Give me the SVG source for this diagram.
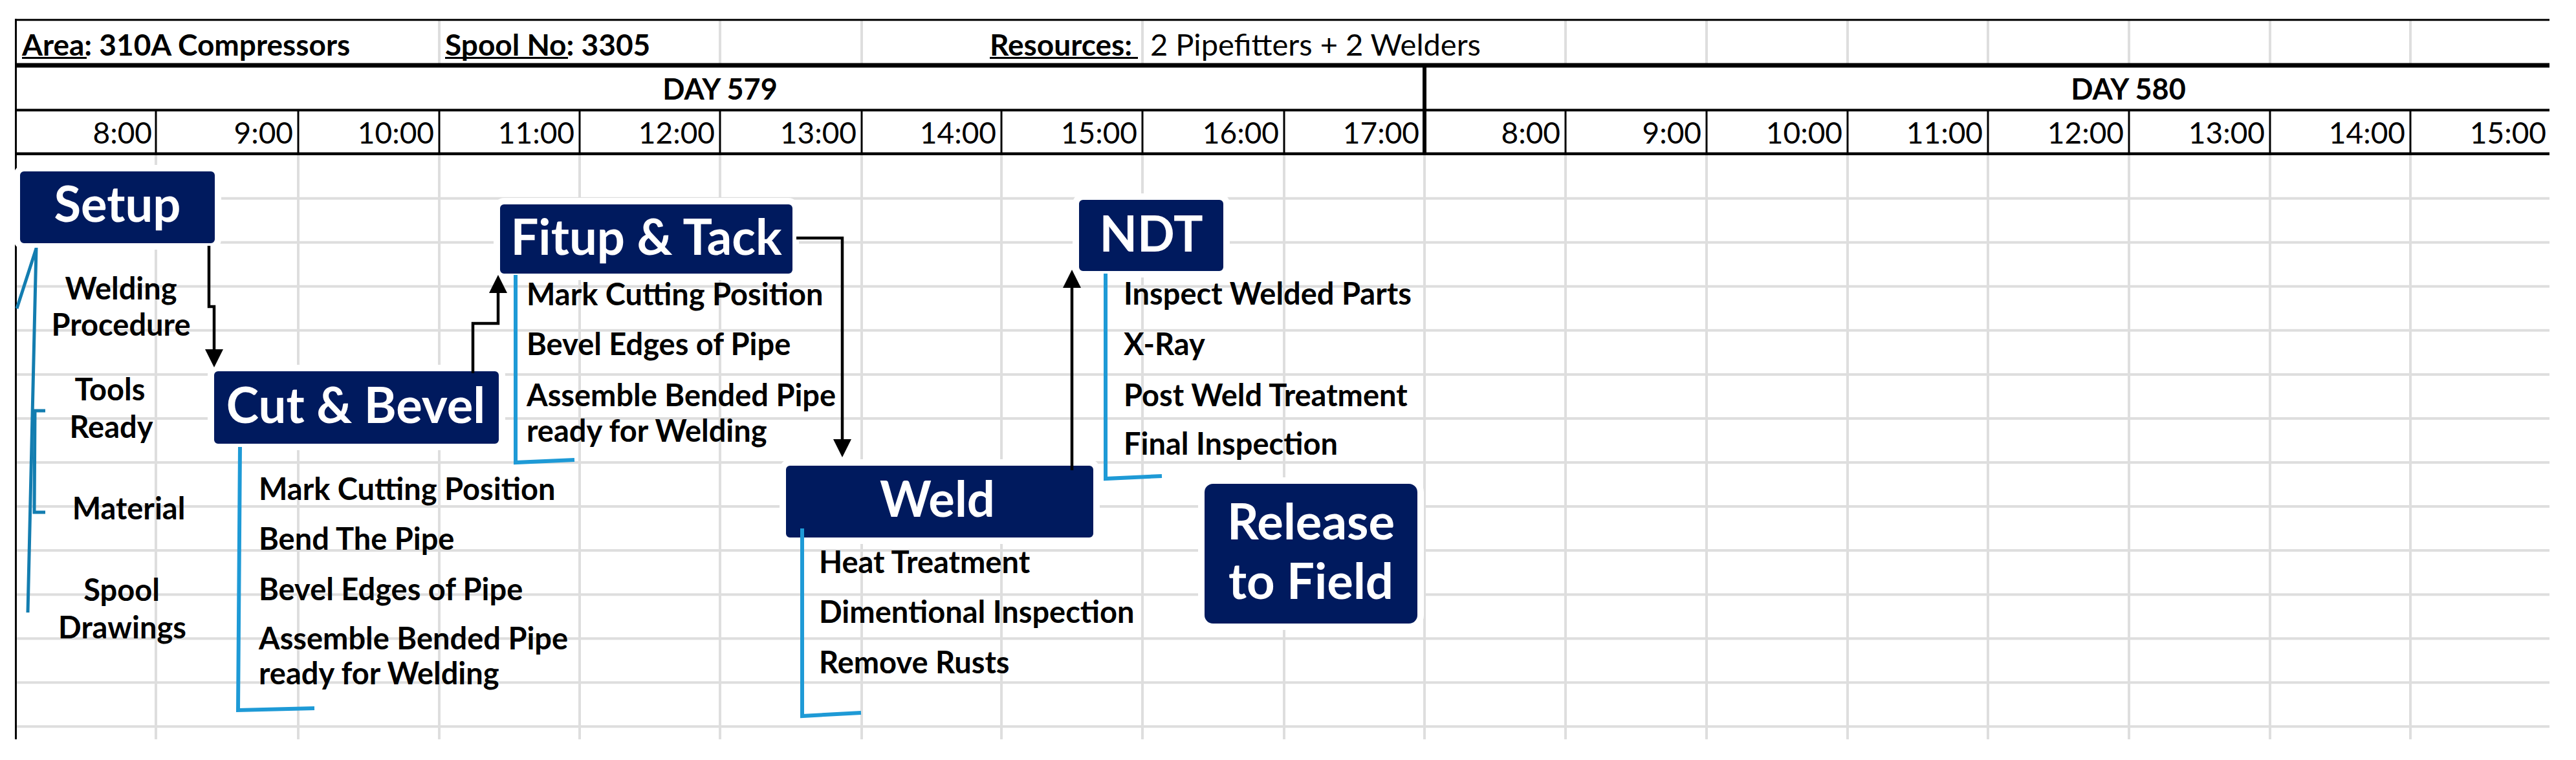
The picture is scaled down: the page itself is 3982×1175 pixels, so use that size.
<svg xmlns="http://www.w3.org/2000/svg" width="3982" height="1175" viewBox="0 0 3982 1175">
<defs>
<style>
text{font-family:Lato,"Liberation Sans",sans-serif}
.hdr{font-size:46px;font-weight:700;fill:#000}
.hdrn{font-size:47px;font-weight:400;fill:#000}
.day{font-size:45px;font-weight:700;text-anchor:middle}
.time{font-size:46px;font-weight:400;text-anchor:end}
.title{font-size:76px;font-weight:700;fill:#fff;text-anchor:middle}
.item{font-size:47px;font-weight:700;fill:#000}
.itemc{font-size:47px;font-weight:700;fill:#000;text-anchor:middle}
.box{fill:#001A5E;stroke:#fff;stroke-width:10}
.grid{stroke:#DEDEDE;stroke-width:4;fill:none}
.brk{stroke:#1E9AD6;stroke-width:6;fill:none}
.brk2{stroke:#137DB0;stroke-width:5;fill:none}
.con{stroke:#000;stroke-width:4.5;fill:none}
</style>
<marker id="arr" markerUnits="userSpaceOnUse" markerWidth="28" markerHeight="28" viewBox="0 0 28 28" refX="0" refY="14" orient="auto">
<path d="M0,0 L28,14 L0,28 z" fill="#000"/>
</marker>
</defs>
<rect width="3982" height="1175" fill="#fff"/>
<g id="grid">
<path class="grid" d="M24,306.7H3941M24,374.75H3941M24,442.8H3941M24,510.85H3941M24,578.9H3941M24,646.95H3941M24,715H3941M24,783.05H3941M24,851.1H3941M24,919.15H3941M24,987.2H3941M24,1055.25H3941M24,1123.3H3941"/>
<path class="grid" d="M241,240V1143M461,240V1143M679,240V1143M896,240V1143M1113,240V1143M1332,240V1143M1548,240V1143M1766,240V1143M1985,240V1143M2202,240V1143M2420,240V1143M2638,240V1143M2856,240V1143M3073,240V1143M3291,240V1143M3509,240V1143M3726,240V1143"/>
<path class="grid" d="M679,32V98M1113,32V98M1332,32V98M1766,32V98M2420,32V98M2638,32V98M2856,32V98M3073,32V98M3291,32V98M3509,32V98M3726,32V98"/>
<path stroke="#000" stroke-width="3" fill="none" d="M241,170V238M461,170V238M679,170V238M896,170V238M1113,170V238M1332,170V238M1548,170V238M1766,170V238M1985,170V238M2420,170V238M2638,170V238M2856,170V238M3073,170V238M3291,170V238M3509,170V238M3726,170V238"/>
<path stroke="#000" stroke-width="6" fill="none" d="M2202,100V238"/>
<path stroke="#000" fill="none" stroke-width="3" d="M23,30.8H3941"/>
<path stroke="#000" fill="none" stroke-width="7" d="M23,101H3941"/>
<path stroke="#000" fill="none" stroke-width="4" d="M23,170.3H3941"/>
<path stroke="#000" fill="none" stroke-width="4.5" d="M23,237.8H3941"/>
<path stroke="#000" fill="none" stroke-width="3" d="M24.5,29V1143"/>
</g>
<g id="header">
<text class="hdr" x="34" y="86">Area: 310A Compressors</text>
<path stroke="#000" stroke-width="3" d="M34,89.5H134"/>
<text class="hdr" x="688" y="86">Spool No: 3305</text>
<path stroke="#000" stroke-width="3" d="M688,89.5H878"/>
<text class="hdr" x="1530" y="86">Resources:</text>
<path stroke="#000" stroke-width="3" d="M1530,89.5H1759"/>
<text class="hdrn" x="1778" y="86">2 Pipefitters + 2 Welders</text>
<text class="day" x="1113" y="154">DAY 579</text>
<text class="day" x="3290" y="154">DAY 580</text>
<text class="time" x="235" y="222">8:00</text>
<text class="time" x="453" y="222">9:00</text>
<text class="time" x="671" y="222">10:00</text>
<text class="time" x="888" y="222">11:00</text>
<text class="time" x="1105" y="222">12:00</text>
<text class="time" x="1324" y="222">13:00</text>
<text class="time" x="1540" y="222">14:00</text>
<text class="time" x="1758" y="222">15:00</text>
<text class="time" x="1977" y="222">16:00</text>
<text class="time" x="2194" y="222">17:00</text>
<text class="time" x="2412" y="222">8:00</text>
<text class="time" x="2630" y="222">9:00</text>
<text class="time" x="2848" y="222">10:00</text>
<text class="time" x="3065" y="222">11:00</text>
<text class="time" x="3283" y="222">12:00</text>
<text class="time" x="3501" y="222">13:00</text>
<text class="time" x="3718" y="222">14:00</text>
<text class="time" x="3936" y="222">15:00</text>
</g>
<g id="node-setup">
<rect class="box" x="26" y="260" width="311" height="121" rx="11"/>
<text class="title" x="181.5" y="343">Setup</text>
</g>
<g id="node-cut-bevel">
<rect class="box" x="326" y="569" width="450" height="122" rx="11"/>
<text class="title" x="550" y="654">Cut &amp; Bevel</text>
</g>
<g id="node-fitup-tack">
<rect class="box" x="768" y="311" width="462" height="117" rx="11"/>
<text class="title" x="999" y="394">Fitup &amp; Tack</text>
</g>
<g id="node-weld">
<rect class="box" x="1210" y="715" width="485" height="121" rx="11"/>
<text class="title" x="1449" y="799">Weld</text>
</g>
<g id="node-ndt">
<rect class="box" x="1663" y="304" width="233" height="120" rx="11"/>
<text class="title" x="1779.5" y="389">NDT</text>
</g>
<g id="node-release">
<rect class="box" x="1857" y="743" width="339" height="226" rx="18"/>
<text class="title" x="2026.5" y="834">Release</text>
<text class="title" x="2026.5" y="926">to Field</text>
</g>
<g id="setup-items">
<path class="brk2" d="M56,383L43,947M56,384L26,477"/>
<path class="brk2" stroke-width="4" d="M70,635H54L53,792H70"/>
<text class="itemc" x="187" y="463">Welding</text>
<text class="itemc" x="187" y="519">Procedure</text>
<text class="itemc" x="170" y="619">Tools</text>
<text class="itemc" x="172" y="677">Ready</text>
<text class="itemc" x="199" y="803">Material</text>
<text class="itemc" x="188" y="929">Spool</text>
<text class="itemc" x="189" y="987">Drawings</text>
</g>
<g id="cut-bevel-items">
<path class="brk" d="M371,691L368,1098L486,1095"/>
<text class="item" x="400" y="773">Mark Cutting Position</text>
<text class="item" x="400" y="850">Bend The Pipe</text>
<text class="item" x="400" y="928">Bevel Edges of Pipe</text>
<text class="item" x="400" y="1004">Assemble Bended Pipe</text>
<text class="item" x="400" y="1058">ready for Welding</text>
</g>
<g id="fitup-items">
<path class="brk" d="M797,425V715L888,711"/>
<text class="item" x="814" y="472">Mark Cutting Position</text>
<text class="item" x="814" y="549">Bevel Edges of Pipe</text>
<text class="item" x="814" y="628">Assemble Bended Pipe</text>
<text class="item" x="814" y="683">ready for Welding</text>
</g>
<g id="weld-items">
<path class="brk" d="M1240,817V1107L1331,1102"/>
<text class="item" x="1266" y="886">Heat Treatment</text>
<text class="item" x="1266" y="963">Dimentional Inspection</text>
<text class="item" x="1266" y="1041">Remove Rusts</text>
</g>
<g id="ndt-items">
<path class="brk" d="M1709,423V740L1796,736"/>
<text class="item" x="1737" y="471">Inspect Welded Parts</text>
<text class="item" x="1737" y="549">X-Ray</text>
<text class="item" x="1737" y="628">Post Weld Treatment</text>
<text class="item" x="1737" y="703">Final Inspection</text>
</g>
<g id="connectors">
<path class="con" marker-end="url(#arr)" d="M323,380V474H331V540"/>
<path class="con" marker-end="url(#arr)" d="M731,577V500H770V453"/>
<path class="con" marker-end="url(#arr)" d="M1231,368H1302V679"/>
<path class="con" marker-end="url(#arr)" d="M1657,727V445"/>
</g>
</svg>
